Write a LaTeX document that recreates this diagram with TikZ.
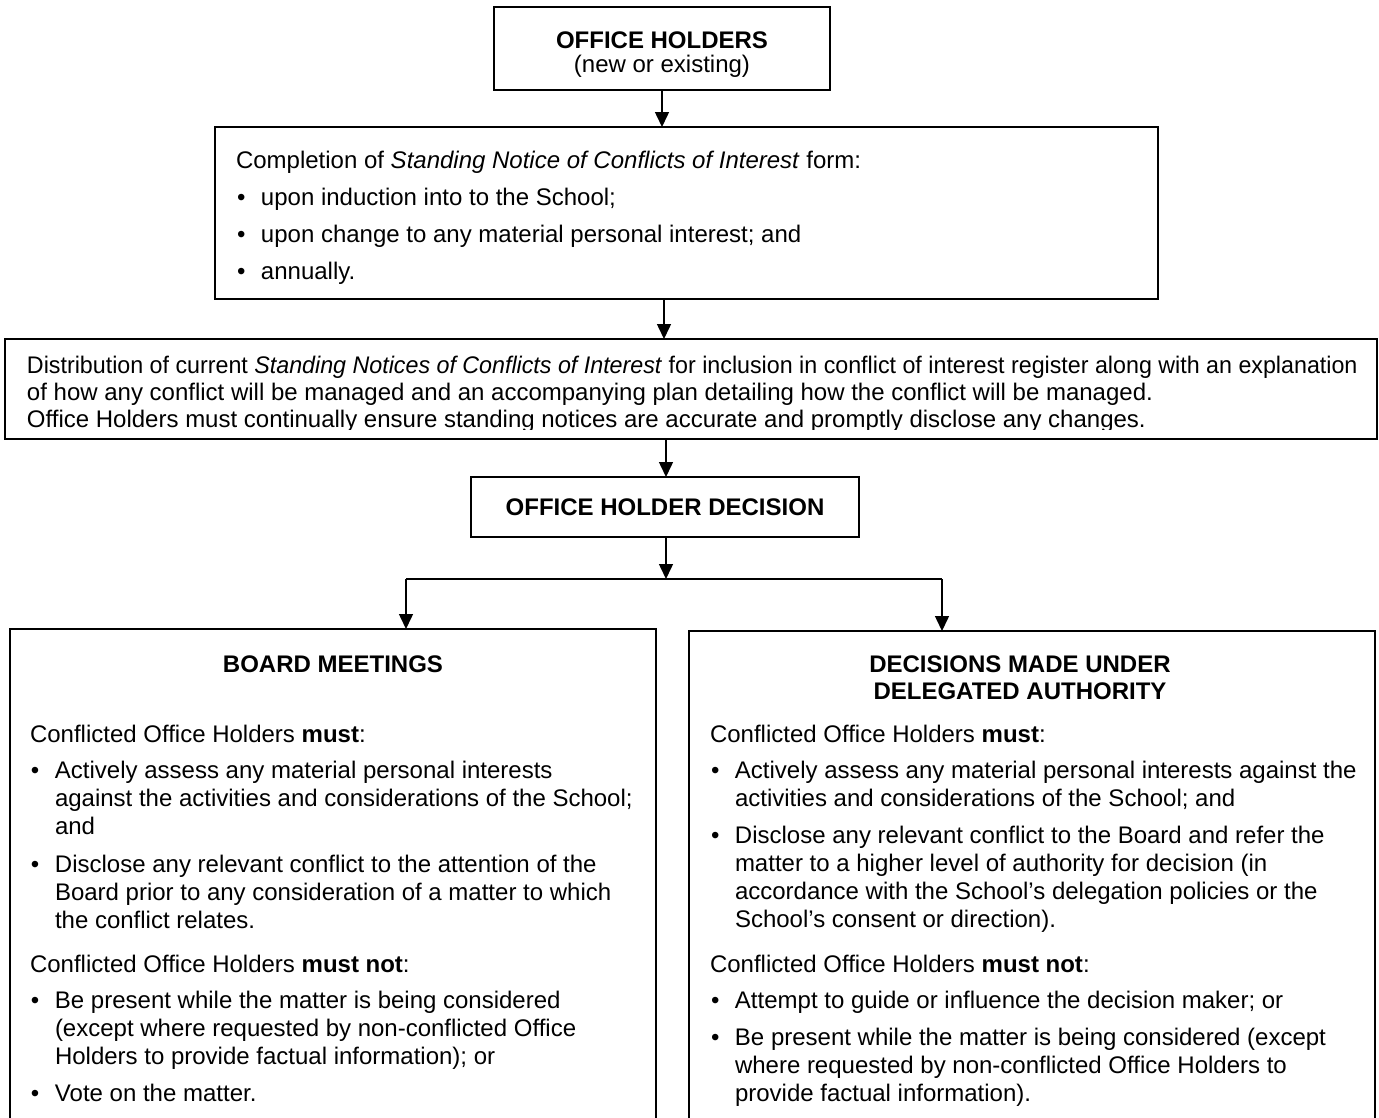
\documentclass[tikz,border=0pt]{standalone}
\usepackage{fontspec}
\setmainfont{Liberation Sans}
\usetikzlibrary{arrows.meta}
\tikzset{
  box/.style={draw, line width=1.6pt, inner sep=0pt, outer sep=0pt, anchor=north west},
  arr/.style={line width=1.5pt, -{Triangle[width=14pt,length=15pt]}},
  conn/.style={line width=1.5pt},
  txt/.style={inner sep=0pt, outer sep=0pt, anchor=base west, font=\fontsize{24}{28}\selectfont},
  ttl/.style={inner sep=0pt, outer sep=0pt, anchor=base, font=\fontsize{24}{28}\selectfont\bfseries},
  plain/.style={inner sep=0pt, outer sep=0pt, anchor=base, font=\fontsize{24}{28}\selectfont},
}
\newcommand\bul{\makebox[25pt][l]{\hspace{1pt}•}}
\newcommand\myline[4]{\node[txt] (#1) at (#2,-#3) {#4};}
\begin{document}
\begin{tikzpicture}[x=1pt,y=1pt]
\useasboundingbox (0,0) rectangle (1379,-1117);
\clip (0,0) rectangle (1379,-1117);
\fill[white] (0,0) rectangle (1379,-1117);

% boxes
\node[box, minimum width=336pt, minimum height=83pt] (oh) at (494,-7) {};
\node[box, minimum width=943pt, minimum height=172pt] (form) at (215,-127) {};
\node[box, minimum width=1372pt, minimum height=100pt] (dist) at (5,-339) {};
\node[box, minimum width=388pt, minimum height=60pt] (dec) at (471,-477) {};
\node[box, minimum width=646pt, minimum height=600pt] (bm) at (10,-629) {};
\node[box, minimum width=686pt, minimum height=600pt] (da) at (689,-631) {};

% box 1
\node[ttl] (ohT) at (662,-48) {OFFICE HOLDERS};
\node[plain] (ohS) at (662,-72) {(new or existing)};

% box 2
\myline{f1}{236}{168}{Completion of \textit{Standing Notice of Conflicts of Interest} form:}
\myline{f2}{236}{205}{\bul upon induction into to the School;}
\myline{f3}{236}{242}{\bul upon change to any material personal interest; and}
\myline{f4}{236}{279}{\bul annually.}

% box 3
\myline{d1}{27}{373}{\scalebox{0.9687}[1]{Distribution of current \textit{Standing Notices of Conflicts of Interest} for inclusion in conflict of interest register along with an explanation}}
\myline{d2}{27}{400}{of how any conflict will be managed and an accompanying plan detailing how the conflict will be managed.}
\begin{scope}
\clip (5,-339) rectangle (1377,-429);
\myline{d3}{27}{427}{Office Holders must continually ensure standing notices are accurate and promptly disclose any changes.}
\end{scope}

% box 4
\node[ttl] (decT) at (665,-515) {OFFICE HOLDER DECISION};

% left bottom box
\node[ttl] (bmT) at (333,-672) {BOARD MEETINGS};
\myline{l1}{30}{742}{Conflicted Office Holders \textbf{must}:}
\myline{l2}{30}{778}{\bul Actively assess any material personal interests}
\myline{l3}{55}{806}{against the activities and considerations of the School;}
\myline{l4}{55}{834}{and}
\myline{l5}{30}{872}{\bul Disclose any relevant conflict to the attention of the}
\myline{l6}{55}{900}{Board prior to any consideration of a matter to which}
\myline{l7}{55}{928}{the conflict relates.}
\myline{l8}{30}{972}{Conflicted Office Holders \textbf{must not}:}
\myline{l9}{30}{1008}{\bul Be present while the matter is being considered}
\myline{l10}{55}{1036}{(except where requested by non-conflicted Office}
\myline{l11}{55}{1064}{Holders to provide factual information); or}
\myline{l12}{30}{1101}{\bul Vote on the matter.}

% right bottom box
\node[ttl] (daT1) at (1020,-672) {DECISIONS MADE UNDER};
\node[ttl] (daT2) at (1020,-699) {DELEGATED AUTHORITY};
\myline{r1}{710}{742}{Conflicted Office Holders \textbf{must}:}
\myline{r2}{710}{778}{\bul Actively assess any material personal interests against the}
\myline{r3}{735}{806}{activities and considerations of the School; and}
\myline{r4}{710}{843}{\bul Disclose any relevant conflict to the Board and refer the}
\myline{r5}{735}{871}{matter to a higher level of authority for decision (in}
\myline{r6}{735}{899}{accordance with the School’s delegation policies or the}
\myline{r7}{735}{927}{School’s consent or direction).}
\myline{r8}{710}{972}{Conflicted Office Holders \textbf{must not}:}
\myline{r9}{710}{1008}{\bul Attempt to guide or influence the decision maker; or}
\myline{r10}{710}{1045}{\bul Be present while the matter is being considered (except}
\myline{r11}{735}{1073}{where requested by non-conflicted Office Holders to}
\myline{r12}{735}{1101}{provide factual information).}

% connectors
\coordinate (c1) at (662,-90);
\coordinate (c2) at (664,-299);
\coordinate (c3) at (666,-439);
\coordinate (c4) at (666,-537);
\coordinate (jc) at (666,-579);
\coordinate (jl) at (406,-579);
\coordinate (jr) at (942,-579);
\draw[arr] (c1) -- (c1 |- form.north);
\draw[arr] (c2) -- (c2 |- dist.north);
\draw[arr] (c3) -- (c3 |- dec.north);
\draw[arr] (c4) -- (jc);
\draw[conn] (jl) -- (jr);
\draw[arr] (jl) -- (jl |- bm.north);
\draw[arr] (jr) -- (jr |- da.north);
\end{tikzpicture}
\end{document}
